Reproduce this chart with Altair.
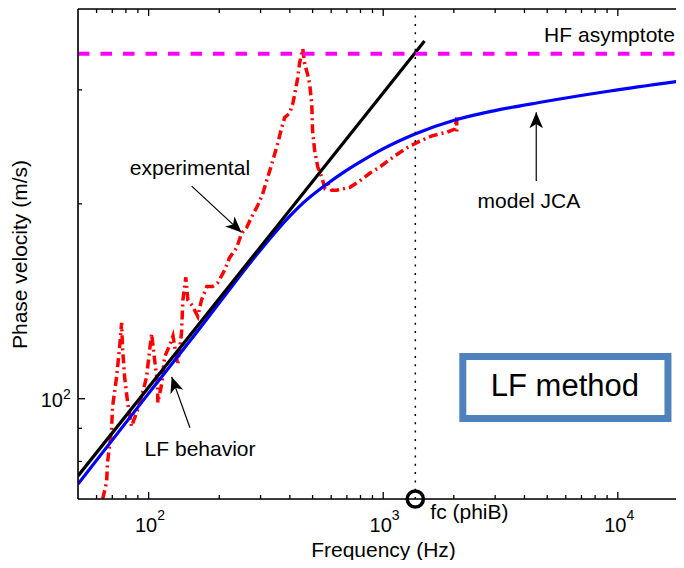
import altair as alt
import pandas as pd

# ---------------- data ----------------
red_f = [63.7, 66.2, 66.8, 69.5, 70.2, 73.0, 75.2, 76.7, 77.4, 79.0, 81.4, 84.6, 88.9, 93.3,
         98.0, 101, 103, 106, 109, 109.5, 114, 117, 123, 127, 133, 138, 140, 144, 147, 154,
         162, 168, 177, 187, 197, 211, 221, 237, 249, 262, 275, 292, 306, 322, 338, 355,
         369, 380, 399, 411, 420, 432, 440, 454, 463, 476, 486, 496, 500, 510, 526, 547,
         563, 580, 603, 633, 672, 719, 794, 876, 966, 1098, 1259, 1431, 1627, 1866, 2018,
         2057, 2060]
red_v = [70.0, 74.3, 79.7, 89.6, 97.2, 108, 120, 131, 120, 108, 98.6, 90.6, 95.2, 100.7,
         108, 119, 126, 115, 106, 98.6, 106, 116, 121, 125, 113, 126, 142, 154, 142, 139,
         134, 142, 149, 149, 151, 158, 165, 171, 180, 184, 191, 199, 207, 220, 233, 248,
         262, 272, 276, 285, 296, 313, 330, 347, 329, 317, 306, 285, 259, 242, 228, 220,
         212, 215, 210, 210, 211, 212, 217, 223, 228, 236, 244, 250, 255, 258, 261,
         272, 256]

blue_f = [50, 100.4, 165.6, 228.9, 307.3, 400.6, 441.9, 576, 667.3, 852.8, 988, 1366,
          2023, 2995, 4613, 9262, 19150]
blue_v = [73.8, 102.1, 128.6, 149.9, 171.6, 191.6, 198.6, 214.7, 222.9, 235.5, 242.7, 256.4,
          269.5, 278.7, 286.8, 298.8, 310.2]

black_f = [50, 1500]
black_v = [76, 357]

hf_v = 341
fc_f = 1370

x_major = [100, 1000, 10000]
x_minor = [60, 70, 80, 90, 200, 300, 400, 500, 600, 700, 800, 900,
           2000, 3000, 4000, 5000, 6000, 7000, 8000, 9000]
y_major = [100]
y_minor = [80, 90, 200, 300]

x_lab_f = [100, 1000, 10000]
x_lab_exp = ["2", "3", "4"]
y_lab_v = [100]
y_lab_exp = ["2"]

ann_text = ["experimental", "model JCA", "LF behavior"]
ann_f = [150, 4177, 165.7]
ann_v = [221.6, 197, 81.6]
hf_text = "HF asymptote"
hf_text_f = 17500
hf_text_v = 356

arr_f0 = [152.6, 4490, 150]
arr_v0 = [213, 217, 90.2]
arr_f1 = [249, 4490, 125.4]
arr_v1 = [180.7, 277, 108.1]
arr_ang = [133, 0, 341]

box_f = [2184, 16357]
box_v = [93.2, 116.2]
box_text = "LF method"
box_text_f = 5949
box_text_v = 104.2

# ---------------- chart ----------------
W, H = 598, 490
FONT = "Liberation Sans"
xs = alt.Scale(type="log", domain=[50, 17700], nice=False)
ys = alt.Scale(type="log", domain=[70, 400], nice=False)

x_axis = alt.Axis(title="Frequency (Hz)", ticks=False, labels=False, domain=False, grid=False,
                  titleFont=FONT, titleFontSize=21, titleFontWeight="normal", titleColor="black",
                  titleX=305, titleY=57, titleAlign="center", titleBaseline="alphabetic")
y_axis = alt.Axis(title="Phase velocity (m/s)", ticks=False, labels=False, domain=False, grid=False,
                  titleFont=FONT, titleFontSize=21, titleFontWeight="normal", titleColor="black",
                  titleAngle=270, titleX=-52, titleY=245, titleAlign="center",
                  titleBaseline="alphabetic")


def X(field="f"):
    return alt.X(f"{field}:Q", scale=xs, axis=x_axis)


def Y(field="v"):
    return alt.Y(f"{field}:Q", scale=ys, axis=y_axis)


red = alt.Chart(pd.DataFrame({"f": red_f, "v": red_v})).mark_line(
    color="#ff0000", strokeWidth=3.5, strokeDash=[9, 4, 2, 4], clip=True
).encode(x=X(), y=Y(), order="i:Q").transform_window(i="row_number()")

blue = alt.Chart(pd.DataFrame({"f": blue_f, "v": blue_v})).mark_line(
    color="#0000ff", strokeWidth=3.2, interpolate="monotone", clip=True
).encode(x=X(), y=Y())

black = alt.Chart(pd.DataFrame({"f": black_f, "v": black_v})).mark_line(
    color="black", strokeWidth=3.2, clip=True
).encode(x=X(), y=Y())

magenta = alt.Chart(pd.DataFrame({"f": [50, 19150], "v": [hf_v, hf_v]})).mark_line(
    color="#ff00ff", strokeWidth=4, strokeDash=[11.5, 11], clip=True
).encode(x=X(), y=Y())

fcline = alt.Chart(pd.DataFrame({"f": [fc_f, fc_f], "v": [70, 400]})).mark_line(
    color="black", strokeWidth=1.5, strokeDash=[2, 6.3]
).encode(x=X(), y=Y())

layers = [red, blue, black, magenta, fcline]

# axis frame lines (left, bottom, top)
one = pd.DataFrame({"a": [0]})
layers.append(alt.Chart(one).mark_rule(color="black", strokeWidth=1.6).encode(
    x=alt.value(0), y=alt.value(0), y2=alt.value(H)))
layers.append(alt.Chart(one).mark_rule(color="black", strokeWidth=1.6).encode(
    x=alt.value(0), x2=alt.value(W), y=alt.value(H)))
layers.append(alt.Chart(one).mark_rule(color="black", strokeWidth=1.6).encode(
    x=alt.value(0), x2=alt.value(W), y=alt.value(0)))

# inward ticks (bottom, top, left)
for vals, L in ((x_major, 7), (x_minor, 4)):
    d = pd.DataFrame({"f": vals})
    layers.append(alt.Chart(d).mark_rule(color="black", strokeWidth=1.3).encode(
        x=X(), y=alt.value(H), y2=alt.value(H - L)))
    layers.append(alt.Chart(d).mark_rule(color="black", strokeWidth=1.3).encode(
        x=X(), y=alt.value(0), y2=alt.value(L)))
for vals, L in ((y_major, 7), (y_minor, 4)):
    d = pd.DataFrame({"v": vals})
    layers.append(alt.Chart(d).mark_rule(color="black", strokeWidth=1.3).encode(
        y=Y(), x=alt.value(0), x2=alt.value(L)))

# tick labels (10 with superscript exponent)
xl = pd.DataFrame({"f": x_lab_f, "e": x_lab_exp})
layers.append(alt.Chart(xl).mark_text(font=FONT, fontSize=20, align="center", baseline="alphabetic",
                                      dx=-2.5, color="black").encode(
    x=X(), y=alt.value(H + 33), text=alt.value("10")))
layers.append(alt.Chart(xl).mark_text(font=FONT, fontSize=14, align="left", baseline="alphabetic",
                                      dx=8.6, color="black").encode(
    x=X(), y=alt.value(H + 21), text="e:N"))
yl = pd.DataFrame({"v": y_lab_v, "e": y_lab_exp})
layers.append(alt.Chart(yl).mark_text(font=FONT, fontSize=20, align="right", baseline="alphabetic",
                                      dy=8, color="black").encode(
    y=Y(), x=alt.value(-15), text=alt.value("10")))
layers.append(alt.Chart(yl).mark_text(font=FONT, fontSize=14, align="left", baseline="alphabetic",
                                      dy=0, color="black").encode(
    y=Y(), x=alt.value(-15), text="e:N"))

# fc marker
layers.append(alt.Chart(pd.DataFrame({"f": [fc_f], "v": [70]})).mark_point(
    shape="circle", filled=False, color="black", strokeWidth=3.5, size=260, opacity=1
).encode(x=X(), y=Y()))
layers.append(alt.Chart(pd.DataFrame({"f": [fc_f]})).mark_text(
    font=FONT, fontSize=21, align="left", baseline="alphabetic", dx=15, color="black"
).encode(x=X(), y=alt.value(H + 20), text=alt.value("fc (phiB)")))

# annotations
layers.append(alt.Chart(pd.DataFrame({"f": ann_f, "v": ann_v, "t": ann_text})).mark_text(
    font=FONT, fontSize=21, align="center", baseline="alphabetic", color="black"
).encode(x=X(), y=Y(), text="t:N"))
layers.append(alt.Chart(pd.DataFrame({"f": [hf_text_f], "v": [hf_text_v], "t": [hf_text]})).mark_text(
    font=FONT, fontSize=21, align="right", baseline="alphabetic", color="black"
).encode(x=X(), y=Y(), text="t:N"))

arr = pd.DataFrame({"f0": arr_f0, "v0": arr_v0, "f1": arr_f1, "v1": arr_v1, "a": arr_ang})
layers.append(alt.Chart(arr).mark_rule(color="black", strokeWidth=1.2).encode(
    x=X("f0"), y=Y("v0"), x2="f1:Q", y2="v1:Q"))
layers.append(alt.Chart(arr).mark_point(
    shape="M0,0 L0.85,2 L0,1.45 L-0.85,2 Z", filled=True, color="black", size=256, opacity=1,
    strokeWidth=0
).encode(x=X("f1"), y=Y("v1"), angle=alt.Angle("a:Q", scale=None)))

# LF method box
layers.append(alt.Chart(pd.DataFrame({"f0": [box_f[0]], "f1": [box_f[1]],
                                      "v0": [box_v[0]], "v1": [box_v[1]]})).mark_rect(
    fill="white", stroke="#4f81bd", strokeWidth=7
).encode(x=X("f0"), x2="f1:Q", y=Y("v0"), y2="v1:Q"))
layers.append(alt.Chart(pd.DataFrame({"f": [box_text_f], "v": [box_text_v], "t": [box_text]})).mark_text(
    font=FONT, fontSize=31, align="center", baseline="middle", color="black"
).encode(x=X(), y=Y(), text="t:N"))

chart = alt.layer(*layers).properties(
    width=W, height=H,
    autosize=alt.AutoSizeParams(type="none"),
    padding={"left": 70, "top": 1, "right": 0, "bottom": 61},
).configure_view(stroke=None).configure(background="white")

chart.save("out.html", embed_options={"renderer": "svg", "actions": False})
